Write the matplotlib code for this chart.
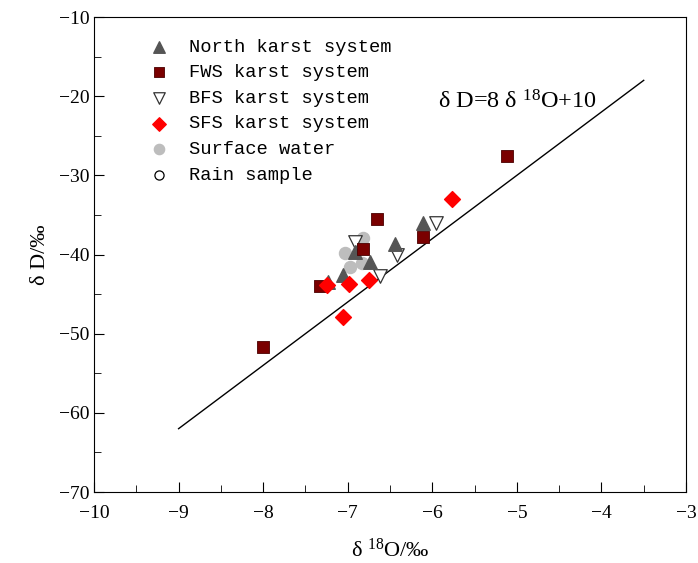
import numpy as np
import matplotlib.pyplot as plt

# North karst system
north_x = [-6.11, -6.44, -6.91, -6.74, -7.06, -7.23]
north_y = [-36.0, -38.7, -39.7, -40.9, -42.6, -43.5]

# FWS karst system
fws_x = [-5.12, -6.65, -6.11, -6.82, -7.33, -8.00]
fws_y = [-27.6, -35.5, -37.8, -39.3, -44.0, -51.7]

# BFS karst system
bfs_x = [-5.96, -6.42, -6.62, -6.91]
bfs_y = [-36.0, -40.1, -42.7, -38.4]

# SFS karst system
sfs_x = [-5.77, -7.25, -6.98, -6.75, -7.06]
sfs_y = [-33.0, -43.8, -43.7, -43.2, -47.9]

# Surface water
sw_x = [-6.82, -7.03, -6.97, -6.83]
sw_y = [-37.9, -39.8, -41.6, -41.1]

# meteoric water line end points
gmwl_x = np.array([-9.0, -3.5])
gmwl_y = 8 * gmwl_x + 10

plt.rcParams['font.family'] = ['Liberation Serif', 'DejaVu Serif']

fig = plt.figure(figsize=(6.98, 5.63), dpi=100)
ax = fig.add_axes([0.1347, 0.1261, 0.8481, 0.8437])

ax.plot(gmwl_x, gmwl_y, color='black', lw=1.0, zorder=1)

ax.scatter(sw_x, sw_y, marker='o', s=75, color='#bdbdbd', label='Surface water', zorder=2)
ax.scatter(bfs_x, bfs_y, marker='v', s=95, facecolor='white', edgecolor='#333333', linewidths=0.9, label='BFS karst system', zorder=3)
ax.scatter(north_x, north_y, marker='^', s=95, color='#555555', label='North karst system', zorder=4)
ax.scatter(fws_x, fws_y, marker='s', s=65, color='#7a0000', edgecolor='#4a0000', linewidths=0.6, label='FWS karst system', zorder=5)
ax.scatter(sfs_x, sfs_y, marker='D', s=65, color='#ff0000', label='SFS karst system', zorder=6)
ax.scatter([], [], marker='o', s=60, facecolor='white', edgecolor='black', linewidths=0.9, label='Rain sample')

handles, labels = ax.get_legend_handles_labels()
order = ['North karst system', 'FWS karst system', 'BFS karst system',
         'SFS karst system', 'Surface water', 'Rain sample']
hmap = dict(zip(labels, handles))
ax.legend([hmap[k] for k in order], order, loc='upper left',
          bbox_to_anchor=(0.05, 0.99), frameon=False,
          prop={'family': 'Liberation Mono', 'size': 13.5},
          handletextpad=0.6, labelspacing=0.45, markerscale=0.85)

ax.text(-5.93, -21.6, 'δ D=8 δ $\\mathregular{^{18}}$O+10', fontsize=17.5)

ax.set_xlim(-10, -3)
ax.set_ylim(-70, -10)
ax.set_xticks(np.arange(-10, -2.5, 1))
ax.set_xticks(np.arange(-9.5, -3, 1), minor=True)
ax.set_yticks(np.arange(-70, -9, 10))
ax.set_yticks(np.arange(-65, -10, 10), minor=True)
ax.tick_params(which='both', direction='in', top=False, right=False, labelsize=14)
ax.tick_params(which='major', length=7)
ax.tick_params(which='minor', length=5)
ax.tick_params(axis='x', pad=9)
ax.set_xticklabels(['\u221210', '\u22129', '\u22128', '\u22127', '\u22126', '\u22125', '\u22124', '\u22123'])
ax.set_yticklabels(['\u221270', '\u221260', '\u221250', '\u221240', '\u221230', '\u221220', '\u221210'])

ax.set_xlabel('δ $\\mathregular{^{18}}$O/‰', fontsize=16, labelpad=12)
ax.set_ylabel('δ D/‰', fontsize=16, labelpad=6)

fig.savefig('out.png', dpi=100)
